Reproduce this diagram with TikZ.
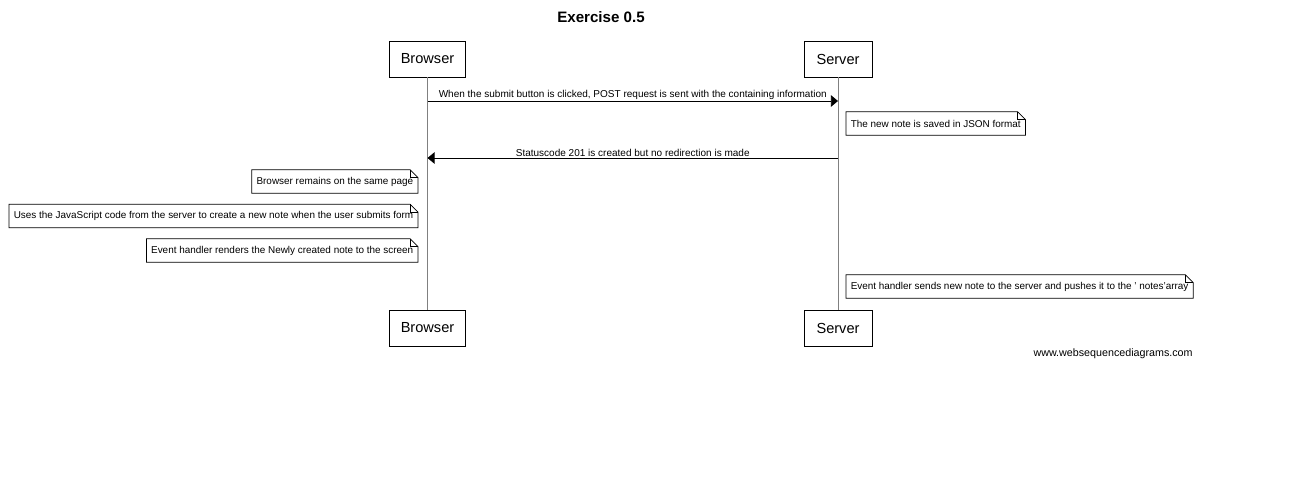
\documentclass[tikz,border=0pt]{standalone}
\usepackage{fontspec}
\setmainfont{Liberation Sans}
\usetikzlibrary{arrows.meta}
\newcommand{\notefold}[1]{%
  \draw (#1.south west) -- (#1.north west) -- ([xshift=-4.5pt]#1.north east)
        -- ([yshift=-4.5pt]#1.north east) -- (#1.south east) -- cycle;
  \draw ([xshift=-4.5pt]#1.north east) |- ([yshift=-4.5pt]#1.north east);}

\begin{document}
\begin{tikzpicture}[x=0.02cm, y=-0.02cm,
    actor/.style={draw, minimum height=20.4pt, font=\fontsize{8.3}{10}\selectfont},
    note/.style={minimum height=13pt, inner xsep=2.5pt, inner ysep=0pt, font=\fontsize{5.65}{7}\selectfont},
    life/.style={draw=gray},
    msg/.style={-{Triangle[length=4pt,width=6.5pt]}},
    lbl/.style={above, inner sep=0.7pt, font=\fontsize{5.7}{7}\selectfont}]
        \useasboundingbox (0,0) rectangle (1309,490);
        \node[font=\fontsize{8.6}{10}\selectfont\bfseries] (title) at (601,17) {Exercise 0.5};
        \node[actor, minimum width=43.6pt] (BT) at (427.5,59) {Browser};
        \node[actor, minimum width=38.6pt] (ST) at (838,59) {Server};
        \node[actor, minimum width=43.6pt] (BB) at (427.5,328) {Browser};
        \node[actor, minimum width=38.6pt] (SB) at (838,328) {Server};
        \draw[life] (BT) -- (BB);
        \draw[life] (ST) -- (SB);
        \coordinate (b1) at (427.5,101);
        \coordinate (s1) at (838,101);
        \coordinate (b2) at (427.5,158);
        \coordinate (s2) at (838,158);
        \draw[msg] (b1) -- node[lbl] {When the submit button is clicked, POST request is sent with the containing information} (s1);
        \node[note, anchor=west] (save) at (846,123.5) {The new note is saved in JSON format};
        \notefold{save}
        \draw[msg] (s2) -- node[lbl] {Statuscode 201 is created but no redirection is made} (b2);
        \node[note, anchor=east] (stay) at (418,181.5) {Browser remains on the same page};
        \notefold{stay}
        \node[note, anchor=east] (js) at (418,216) {Uses the JavaScript code from the server to create a new note when the user submits form};
        \notefold{js}
        \node[note, anchor=east] (render) at (418,250.5) {Event handler renders the Newly created note to the screen};
        \notefold{render}
        \node[note, anchor=west] (push) at (846,286.5) {Event handler sends new note to the server and pushes it to the ' notes'array};
        \notefold{push}
        \node[anchor=east, inner sep=0pt, font=\fontsize{6.1}{7}\selectfont] (wsd) at (1193,354) {www.websequencediagrams.com};
\end{tikzpicture}
\end{document}
